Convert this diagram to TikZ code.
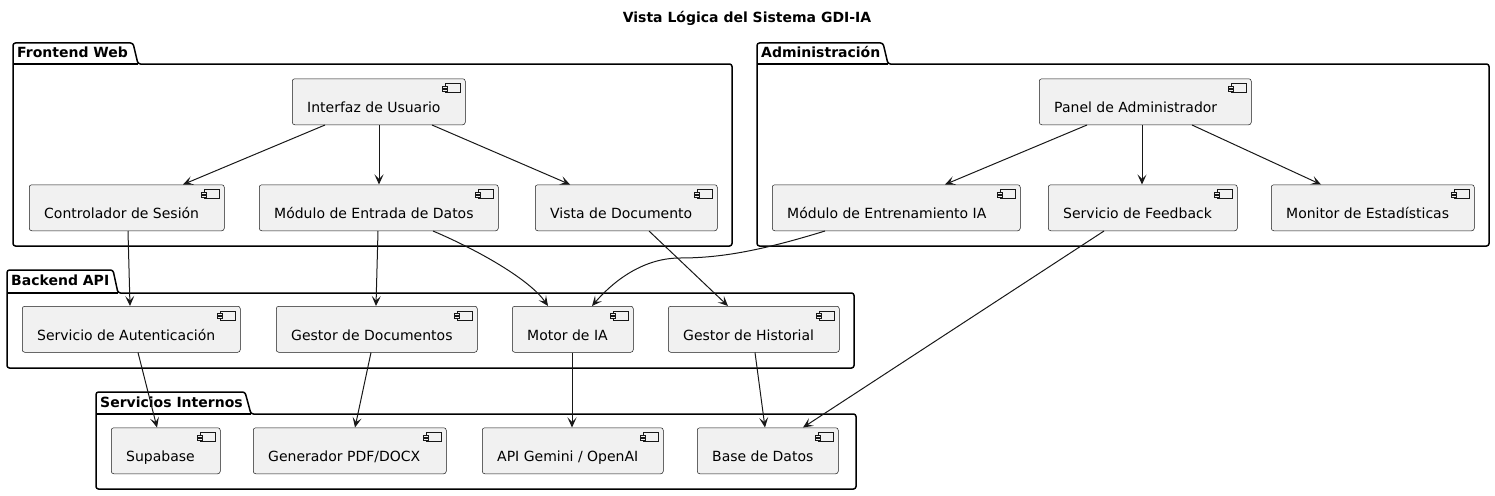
\documentclass[tikz,border=0pt]{standalone}
\usepackage{fontspec}
\setmainfont{DejaVu Sans}
\usetikzlibrary{arrows.meta}
\definecolor{compfill}{HTML}{F1F1F1}
\definecolor{ln}{HTML}{181818}
\tikzset{
 compbox/.style={draw=ln, fill=compfill, line width=0.5pt, rounded corners=2.5pt, minimum height=46pt, inner sep=0pt, anchor=north west},
 comptext/.style={font=\fontsize{14pt}{16pt}\selectfont, inner sep=0pt, anchor=base west, text=black},
 iconrect/.style={draw=ln, fill=compfill, line width=0.5pt},
 pkg/.style={draw=black, line width=1.5pt, rounded corners=2.5pt},
 pkgline/.style={draw=black, line width=1.5pt},
 pkglabel/.style={font=\bfseries\fontsize{14pt}{16pt}\selectfont, inner sep=0pt, anchor=base west},
 titlefont/.style={font=\bfseries\fontsize{14pt}{16pt}\selectfont, inner sep=0pt, anchor=base},
 arr/.style={draw=ln, line width=1pt, -{Stealth[length=10pt,width=9pt,inset=4.5pt]}},
}
\newcommand\comp[5]{%
 \node[compbox, minimum width=#4pt] (#1) at (#2,#3) {};
 \node[comptext] (#1-t) at ({#2+15},{#3+34}) {#5};
 \draw[iconrect] ({#2+#4-20},{#3+5}) rectangle ({#2+#4-5},{#3+14});
 \draw[iconrect] ({#2+#4-22.5},{#3+7.5}) rectangle ({#2+#4-17.5},{#3+9.5});
 \draw[iconrect] ({#2+#4-22.5},{#3+10.5}) rectangle ({#2+#4-17.5},{#3+12.5});
}
\newcommand\pkgdraw[9]{%
 \draw[pkg] (#1,#5) -- (#1,#3) -- (#6,#3) -- (#7,#4) -- (#2,#4) -- (#2,#5) -- cycle;
 \draw[pkgline] (#1,#4) -- (#7,#4);
 \node[pkglabel] (#9) at ({#1+4},{#3+15}) {#8};
}
\begin{document}
\begin{tikzpicture}[x=1pt,y=-1pt]
\useasboundingbox (0,0) rectangle (1495,495);
\node[titlefont] (title) at (747,23) {Vista Lógica del Sistema GDI-IA};

\pkgdraw{13}{732}{43}{64}{246}{133}{138}{Frontend Web}{pfront}
\pkgdraw{757}{1489}{43}{64}{246}{883}{888}{Administración}{padmin}
\pkgdraw{7}{854}{270}{293}{368}{113}{118}{Backend API}{pback}
\pkgdraw{96}{856}{392}{414}{489}{245}{251}{Servicios Internos}{pserv}

\comp{intf}{292}{78.5}{173}{Interfaz de Usuario}
\comp{ctrl}{29}{184.5}{195}{Controlador de Sesión}
\comp{mode}{259}{184.5}{239}{Módulo de Entrada de Datos}
\comp{vista}{535}{184.5}{182}{Vista de Documento}
\comp{panel}{1039}{78.5}{212}{Panel de Administrador}
\comp{entr}{772}{184.5}{248}{Módulo de Entrenamiento IA}
\comp{feed}{1048}{184.5}{189}{Servicio de Feedback}
\comp{moni}{1271}{184.5}{203}{Monitor de Estadísticas}
\comp{auth}{22}{306}{218}{Servicio de Autenticación}
\comp{gdoc}{276}{306}{201}{Gestor de Documentos}
\comp{motor}{512}{306}{121}{Motor de IA}
\comp{hist}{668}{306}{171}{Gestor de Historial}
\comp{supa}{111}{427.5}{109}{Supabase}
\comp{gen}{253}{427.5}{193}{Generador PDF/DOCX}
\comp{api}{482}{427.5}{181}{API Gemini / OpenAI}
\comp{bd}{697}{427.5}{141}{Base de Datos}

\coordinate (bend) at (680,258);

\draw[arr] ([xshift=33pt]intf.south west) -- ([xshift=154pt]ctrl.north west);
\draw[arr] ([xshift=87pt]intf.south west) -- ([xshift=120pt]mode.north west);
\draw[arr] ([xshift=140pt]intf.south west) -- ([xshift=35pt]vista.north west);
\draw[arr] ([xshift=99pt]ctrl.south west) -- ([xshift=108pt]auth.north west);
\draw[arr] ([xshift=119pt]mode.south west) -- ([xshift=100pt]gdoc.north west);
\draw[arr] ([xshift=174pt]mode.south west) .. controls +(47,20) and +(-18,-26) .. ([xshift=36pt]motor.north west);
\draw[arr] ([xshift=114pt]vista.south west) -- ([xshift=60pt]hist.north west);
\draw[arr] ([xshift=53pt]entr.south west) .. controls +(-65,20) and +(40,0) .. (bend) .. controls +(-40,0) and +(18,-21) .. ([xshift=80pt]motor.north west);
\draw[arr] ([xshift=48pt]panel.south west) -- ([xshift=173pt]entr.north west);
\draw[arr] ([xshift=103pt]panel.south west) -- ([xshift=94pt]feed.north west);
\draw[arr] ([xshift=153pt]panel.south west) -- ([xshift=50pt]moni.north west);
\draw[arr] ([xshift=56pt]feed.south west) -- ([xshift=106pt]bd.north west);
\draw[arr] ([xshift=116pt]auth.south west) -- ([xshift=46pt]supa.north west);
\draw[arr] ([xshift=95pt]gdoc.south west) -- ([xshift=102pt]gen.north west);
\draw[arr] ([xshift=60pt]motor.south west) -- ([xshift=90pt]api.north west);
\draw[arr] ([xshift=87pt]hist.south west) -- ([xshift=68pt]bd.north west);
\end{tikzpicture}
\end{document}
